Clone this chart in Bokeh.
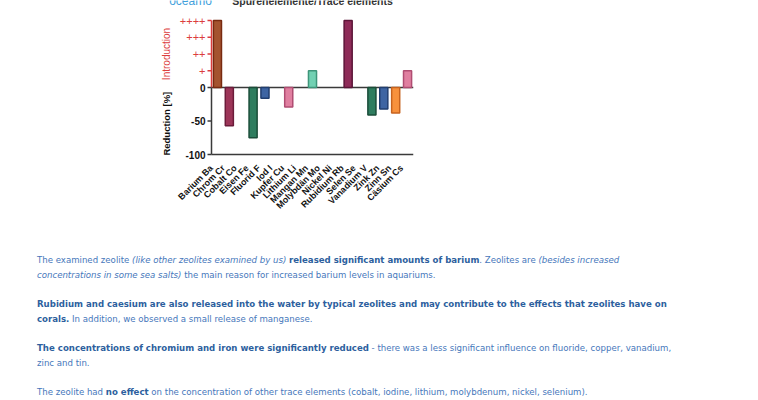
import math
from bokeh.plotting import figure
from bokeh.models import Range1d, FixedTicker, ColumnDataSource, Div
from bokeh.core.properties import value
from bokeh.layouts import column
from bokeh.embed import file_html
from bokeh.resources import INLINE

# ---------------- data ----------------
categories = ["Barium Ba", "Chrom Cr", "Cobalt Co", "Eisen Fe", "Fluorid F",
              "Iod I", "Kupfer Cu", "Lithium Li", "Mangan Mn", "Molybdän Mo",
              "Nickel Ni", "Rubidium Rb", "Selen Se", "Vanadium V", "Zink Zn",
              "Zinn Sn", "Cäsium Cs"]
values = [100, -57, 0, -75, -16, 0, -29, 0, 25, 0, 0, 100, 0, -41, -32, -38, 25]

pos_ticks = [25, 50, 75, 100]
pos_labels = ["+", "++", "+++", "++++"]
neg_ticks = [-100, -50, 0]
neg_labels = ["-100", "-50", "0"]

axis_titles = ["Introduction", "Reduction [%]"]
chart_title = "Spurenelemente/Trace elements"
logo_text = "oceamo"

# styles (one per category)
fill_colors = ["#a4532f", "#9c3558", "#3e65a3", "#2f7d5f", "#3e65a3",
               "#e07fa0", "#e07fa0", "#72d1b3", "#72d1b3", "#8e2b58",
               "#8e2b58", "#8e2b58", "#2f7d5f", "#2f7d5f", "#3e65a3",
               "#f7913d", "#e07fa0"]
line_colors = ["#782a10", "#6b1c3a", "#213f70", "#1b4d39", "#213f70",
               "#b04d72", "#b04d72", "#3e957a", "#3e957a", "#5c1538",
               "#5c1538", "#5c1538", "#1b4d39", "#1b4d39", "#213f70",
               "#c7631f", "#b04d72"]

RED = "#dc3d3d"
AXIS = "#3a3a3a"
FONT = "Liberation Sans"

# ---------------- geometry (pixels) ----------------
W, H = 750, 253
FRAME_L, AXIS_X, FRAME_R = 150, 211, 413
PLOT_TOP, PLOT_B = 20, 154            # y=+100 at PLOT_TOP, y=-100 at PLOT_B
FRAME_B = 160
N = len(categories)
ppx = (FRAME_R - AXIS_X) / N          # pixels per x unit
ppy = (PLOT_B - PLOT_TOP) / 200.0      # pixels per y unit
x_start = -(AXIS_X - FRAME_L) / ppx
y_end = 100 + PLOT_TOP / ppy
y_start = -100 - (FRAME_B - PLOT_B) / ppy

def x_at(px):
    return (px - AXIS_X) / ppx

keep = [i for i, v in enumerate(values) if v != 0]
src = ColumnDataSource(dict(
    x=[i + 0.5 for i in keep],
    top=[values[i] for i in keep],
    fill=[fill_colors[i] for i in keep],
    line=[line_colors[i] for i in keep],
))

p = figure(width=W, height=H, x_range=Range1d(x_start, N),
           y_range=Range1d(y_start, y_end), output_backend="svg",
           toolbar_location=None, min_border_left=FRAME_L,
           min_border_right=W - FRAME_R, min_border_top=0,
           min_border_bottom=H - FRAME_B, margin=(0, 0, 0, 0))
p.xgrid.grid_line_color = None
p.ygrid.grid_line_color = None
p.outline_line_color = None
p.yaxis.visible = False

# zero line and bottom axis line
lo = min(neg_ticks)
p.segment(x0=[0, 0], y0=[0, lo], x1=[N, N], y1=[0, lo],
          line_color=AXIS, line_width=1.5)

# bars
p.vbar(x="x", top="top", bottom=0, width=0.68, source=src,
       fill_color="fill", line_color="line", line_width=1.5)

# y axis drawn as glyphs (two colours)
p.segment(x0=[0, 0], y0=[lo, 0], x1=[0, 0], y1=[0, max(pos_ticks)],
          line_color=[AXIS, RED], line_width=1.5)
yt = neg_ticks + pos_ticks
p.ray(x=[0] * len(yt), y=yt, length=4, length_units="screen", angle=math.pi,
      line_color=[AXIS] * len(neg_ticks) + [RED] * len(pos_ticks), line_width=1.5)
p.text(x=[0] * len(neg_ticks), y=neg_ticks, text=neg_labels, x_offset=-6,
       text_align="right", text_baseline="middle", text_color="#111111",
       text_font=value(FONT), text_font_style=value("bold"), text_font_size="10px")
p.text(x=[0] * len(pos_ticks), y=pos_ticks, text=pos_labels, x_offset=-6,
       text_align="right", text_baseline="middle", text_color=RED,
       text_font=value(FONT), text_font_size="11px")

# axis titles
p.text(x=[0], y=[50], text=[axis_titles[0]], x_offset=-45, angle=math.pi / 2,
       text_align="center", text_baseline="middle", text_color=RED,
       text_font=value(FONT), text_font_size="10px")
p.text(x=[0], y=[-54], text=[axis_titles[1]], x_offset=-45, angle=math.pi / 2,
       text_align="center", text_baseline="middle", text_color="#111111",
       text_font=value(FONT), text_font_style=value("bold"), text_font_size="9.5px")

# title and logo (cut off at the top edge, as on the page)
p.text(x=[N / 2], y=[y_end], text=[chart_title], text_align="center",
       text_baseline="middle", text_color="#333333", text_font=value(FONT),
       text_font_style=value("bold"), text_font_size="10.5px")
p.text(x=[x_at(190)], y=[y_end], text=[logo_text], text_align="center",
       text_baseline="middle", text_color="#3fa0dc", text_font=value(FONT),
       text_font_size="12px")

# x axis (labels only; its line is drawn above at y = -100)
xa = p.xaxis[0]
xa.ticker = FixedTicker(ticks=[float(i) for i in range(N)])
xa.major_label_overrides = {float(i): c for i, c in enumerate(categories)}
xa.major_label_orientation = math.pi / 4
xa.major_tick_line_color = None
xa.minor_tick_line_color = None
xa.axis_line_color = None
xa.major_label_text_font = FONT
xa.major_label_text_font_style = "bold"
xa.major_label_text_font_size = "9px"
xa.major_label_text_color = "#111111"
xa.major_label_standoff = 0

# ---------------- text below ----------------
REG = "#4677bb"
BLD = "#2d5f9e"
b = lambda s: f'<span style="font-weight:bold;color:{BLD}">{s}</span>'
i_ = lambda s: f'<span style="font-style:italic">{s}</span>'

html = (
    f'<div style="font-family:\'DejaVu Sans Condensed\',\'DejaVu Sans\',sans-serif;'
    f'font-size:9.55px;line-height:14.67px;color:{REG};white-space:nowrap;">'
    f'The examined zeolite {i_("(like other zeolites examined by us)")} '
    f'{b("released significant amounts of barium")}. Zeolites are '
    f'{i_("(besides increased")}<br>'
    f'{i_("concentrations in some sea salts)")} the main reason for increased '
    f'barium levels in aquariums.<br><br>'
    f'{b("Rubidium and caesium are also released into the water by typical zeolites and may contribute to the effects that zeolites have on")}<br>'
    f'{b("corals.")} In addition, we observed a small release of manganese.<br><br>'
    f'{b("The concentrations of chromium and iron were significantly reduced")}'
    f' - there was a less significant influence on fluoride, copper, vanadium,<br>'
    f'zinc and tin.<br><br>'
    f'The zeolite had {b("no effect")} on the concentration of other trace '
    f'elements (cobalt, iodine, lithium, molybdenum, nickel, selenium).'
    f'</div>'
)
div = Div(text=html, width=W - 37, height=400 - H, margin=(0, 0, 0, 37))

layout = column(p, div, margin=(0, 0, 0, 0), spacing=0)

open("out.html", "w").write(file_html(layout, INLINE))
